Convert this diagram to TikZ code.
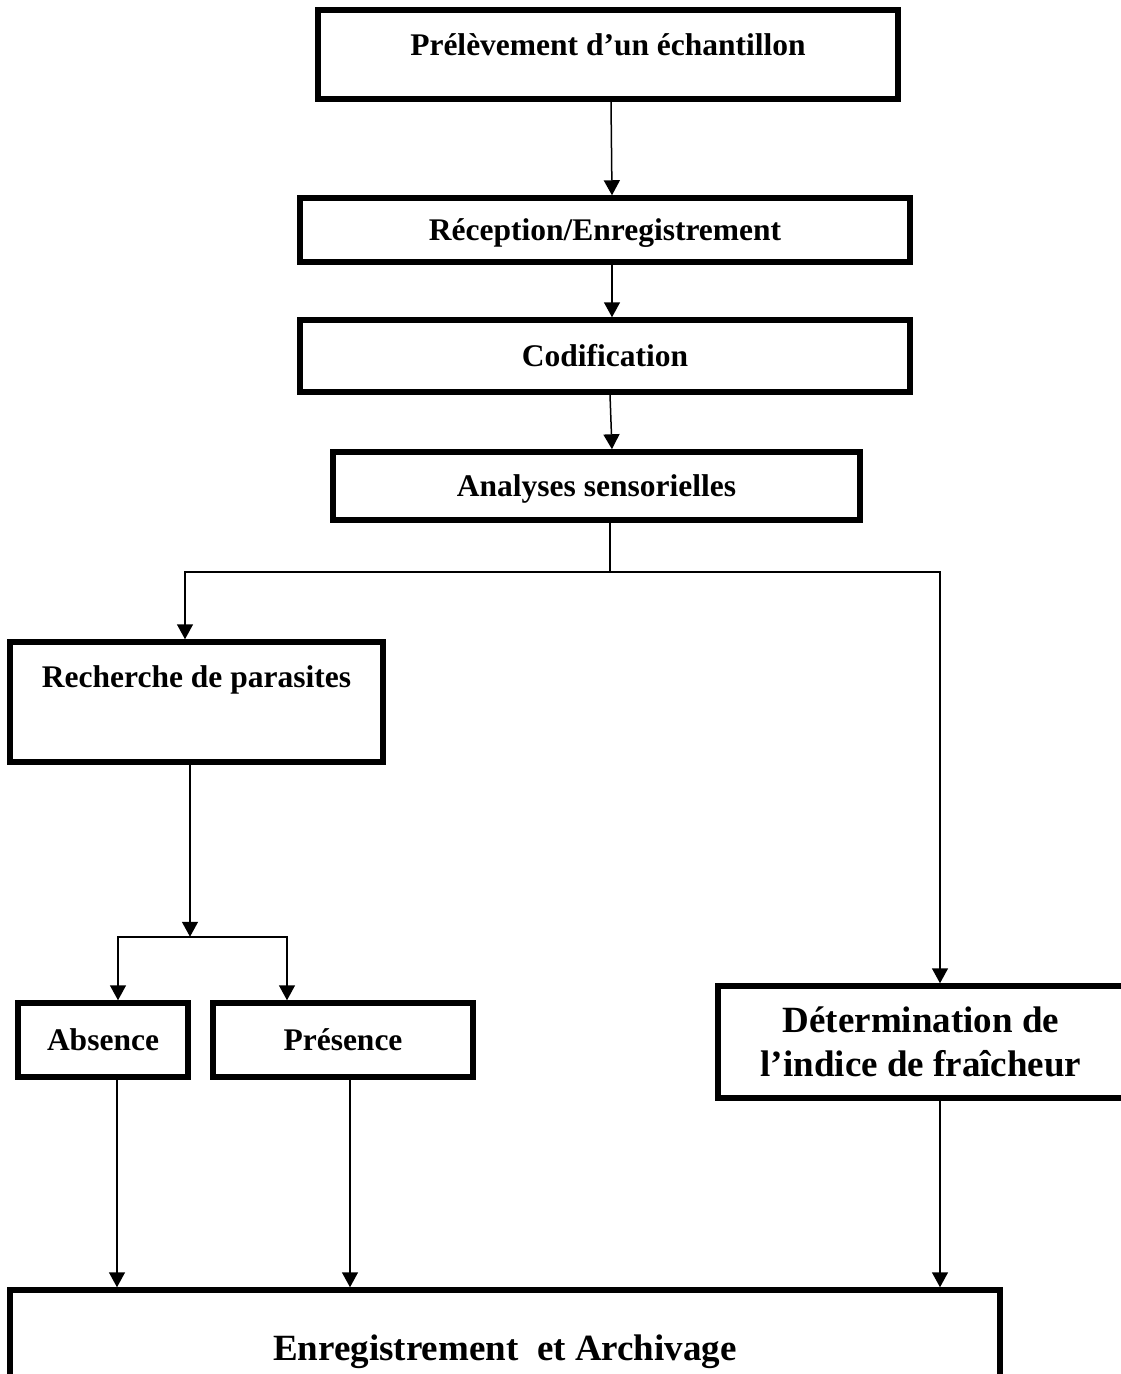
\documentclass[tikz,border=0pt]{standalone}
\usepackage{fontspec}
\setmainfont{Liberation Serif}
\usepackage{tikz}
\usetikzlibrary{arrows.meta, positioning}
\tikzset{
    stage/.style={rectangle, draw, line width=5.5pt, inner sep=4pt, text centered,
        font=\bfseries\fontsize{31.5pt}{36pt}\selectfont, text height=24pt, text depth=4pt},
    bigstage/.style={rectangle, draw, line width=5.5pt, inner sep=4pt, align=center,
        font=\bfseries\fontsize{37pt}{44pt}\selectfont},
    arr/.style={-{Triangle[width=16pt,length=15pt]}, line width=1.5pt},
    ln/.style={line width=1.5pt},
}

\begin{document}
\begin{tikzpicture}
    \fill [white] (0,0) rectangle (1121pt,-1374pt);
    \useasboundingbox (0,0) rectangle (1121pt,-1374pt);
    % Main chain
    \node [stage, minimum width=580pt, minimum height=89pt, text depth=23pt] (prel) at (608pt,-54.5pt) {Prélèvement d’un échantillon};
    \node [stage, minimum width=610pt, minimum height=64pt, below=93.5pt of prel, xshift=-3pt] (recep) {Réception/Enregistrement};
    \node [stage, minimum width=610pt, minimum height=72pt, below=52.5pt of recep] (codif) {Codification};
    \node [stage, minimum width=527pt, minimum height=68pt, below=54.5pt of codif, xshift=-8.5pt] (sens) {Analyses sensorielles};
    % Left branch
    \node [stage, minimum width=373pt, minimum height=120pt, text depth=54pt, below=116.5pt of sens, xshift=-400pt] (paras) {Recherche de parasites};
    \node [stage, minimum width=170pt, minimum height=74pt, below=235.5pt of paras, xshift=-93.5pt] (absn) {Absence};
    \node [stage, minimum width=260pt, minimum height=74pt, right=19.5pt of absn] (pres) {Présence};
    % Right branch
    \node [bigstage, minimum width=406pt, minimum height=112pt, below=460.5pt of sens, xshift=324.5pt] (fraich) {Détermination de\\l’indice de fraîcheur};
    % Final
    \node [bigstage, minimum width=990pt, minimum height=123pt, below=207.5pt of absn, xshift=402pt] (archiv) {Enregistrement\ \ et Archivage};
    % Arrows
    \draw [arr] ([xshift=3pt]prel.south) -- ([xshift=7pt]recep.north);
    \draw [arr] ([xshift=7pt]recep.south) -- ([xshift=7pt]codif.north);
    \draw [arr] ([xshift=5pt]codif.south) -- ([xshift=15.5pt]sens.north);
    % Split after sensory analysis
    \path ([xshift=13.5pt]sens.south) ++(0,-49pt) coordinate (split);
    \draw [ln] ([xshift=13.5pt]sens.south) -- (split);
    \draw [arr] (split) -| ([xshift=-11.5pt]paras.north);
    \draw [arr] (split) -| ([xshift=19pt]fraich.north);
    % Fork to absence / presence
    \path ([xshift=-6.5pt]paras.south) ++(0,-172pt) coordinate (fork);
    \draw [arr] ([xshift=-6.5pt]paras.south) -- (fork);
    \draw [arr] (fork) -| ([xshift=15pt]absn.north);
    \draw [arr] (fork) -| ([xshift=-56pt]pres.north);
    % Into archiving
    \draw [arr] ([xshift=14pt]absn.south) -- ([xshift=-388pt]archiv.north);
    \draw [arr] ([xshift=7pt]pres.south) -- ([xshift=-155pt]archiv.north);
    \draw [arr] ([xshift=19pt]fraich.south) -- ([xshift=435pt]archiv.north);
\end{tikzpicture}
\end{document}
